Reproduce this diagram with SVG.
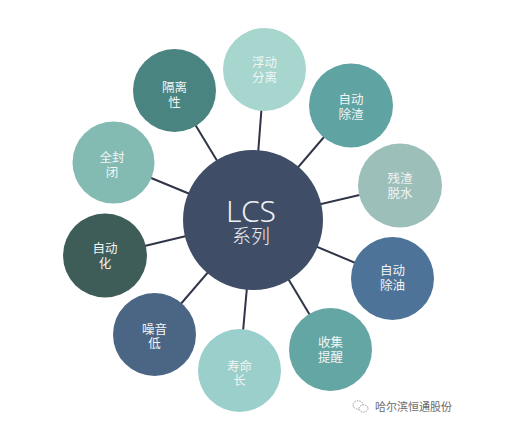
<svg xmlns="http://www.w3.org/2000/svg" width="513" height="433" viewBox="0 0 513 433">
<style>
.t{font-family:"Noto Sans CJK SC","Noto Sans",sans-serif;font-size:12.5px;fill:#f2f5f5;text-anchor:middle}
.line{stroke:#2f3447;stroke-width:2;fill:none}
.wm{font-family:"Noto Sans CJK SC",sans-serif;font-size:11px;fill:#6b6b6b}
</style>
<rect width="513" height="433" fill="#ffffff"/>
<g id="connectors" class="line">
<line x1="253" y1="220" x2="264.5" y2="69.5"/>
<line x1="253" y1="220" x2="174.5" y2="90.5"/>
<line x1="253" y1="220" x2="351" y2="105.5"/>
<line x1="253" y1="220" x2="400" y2="185.5"/>
<line x1="253" y1="220" x2="392.5" y2="278.5"/>
<line x1="253" y1="220" x2="330.5" y2="349.5"/>
<line x1="253" y1="220" x2="239.5" y2="370.5"/>
<line x1="253" y1="220" x2="154.5" y2="334.5"/>
<line x1="253" y1="220" x2="105" y2="255.5"/>
<line x1="253" y1="220" x2="113.5" y2="162.5"/>
</g>
<g id="center">
<circle cx="253" cy="220" r="70" fill="#3f4d66"/>
<text text-anchor="middle" fill="#eef1f4" font-family="'Noto Sans','Noto Sans CJK SC',sans-serif" font-weight="300"><tspan x="251" y="222" font-size="30">LCS</tspan><tspan x="251" y="243" font-size="19" font-family="'Noto Sans CJK SC',sans-serif">系列</tspan></text>
</g>
<g id="n1"><circle cx="264.5" cy="69.5" r="41.5" fill="#a6d6cd"/><text class="t"><tspan x="264.5" y="67">浮动</tspan><tspan x="264.5" y="82">分离</tspan></text></g>
<g id="n2"><circle cx="174.5" cy="90.5" r="41.5" fill="#4a8481"/><text class="t"><tspan x="174.5" y="92">隔离</tspan><tspan x="174.5" y="106.5">性</tspan></text></g>
<g id="n3"><circle cx="351" cy="105.5" r="42" fill="#5fa3a2"/><text class="t"><tspan x="351" y="103.5">自动</tspan><tspan x="351" y="118.5">除渣</tspan></text></g>
<g id="n4"><circle cx="400" cy="185.5" r="42" fill="#9dbfba"/><text class="t"><tspan x="400" y="183">残渣</tspan><tspan x="400" y="197.5">脱水</tspan></text></g>
<g id="n5"><circle cx="392.5" cy="278.5" r="41.5" fill="#4e7398"/><text class="t"><tspan x="392.5" y="275">自动</tspan><tspan x="392.5" y="290">除油</tspan></text></g>
<g id="n6"><circle cx="330.5" cy="349.5" r="41.5" fill="#63a6a4"/><text class="t"><tspan x="330.5" y="347">收集</tspan><tspan x="330.5" y="362">提醒</tspan></text></g>
<g id="n7"><circle cx="239.5" cy="370.5" r="41.5" fill="#9acfcb"/><text class="t"><tspan x="239.5" y="370.5">寿命</tspan><tspan x="239.5" y="385">长</tspan></text></g>
<g id="n8"><circle cx="154.5" cy="334.5" r="41.5" fill="#4b6584"/><text class="t"><tspan x="154.5" y="333.5">噪音</tspan><tspan x="154.5" y="348">低</tspan></text></g>
<g id="n9"><circle cx="105" cy="255.5" r="42" fill="#3f5d58"/><text class="t"><tspan x="105" y="253">自动</tspan><tspan x="105" y="267.5">化</tspan></text></g>
<g id="n10"><circle cx="113.5" cy="162.5" r="41" fill="#83bbb3"/><text class="t"><tspan x="112" y="162">全封</tspan><tspan x="112" y="176.5">闭</tspan></text></g>
<g id="watermark">
<ellipse cx="358" cy="405" rx="5" ry="4.2" fill="none" stroke="#9a9a9a" stroke-width="1" stroke-dasharray="1.5 1"/>
<ellipse cx="363.5" cy="408.5" rx="4.5" ry="3.6" fill="#ffffff" stroke="#9a9a9a" stroke-width="1" stroke-dasharray="1.5 1"/>
<text class="wm" x="375" y="411">哈尔滨恒通股份</text>
</g>
</svg>
